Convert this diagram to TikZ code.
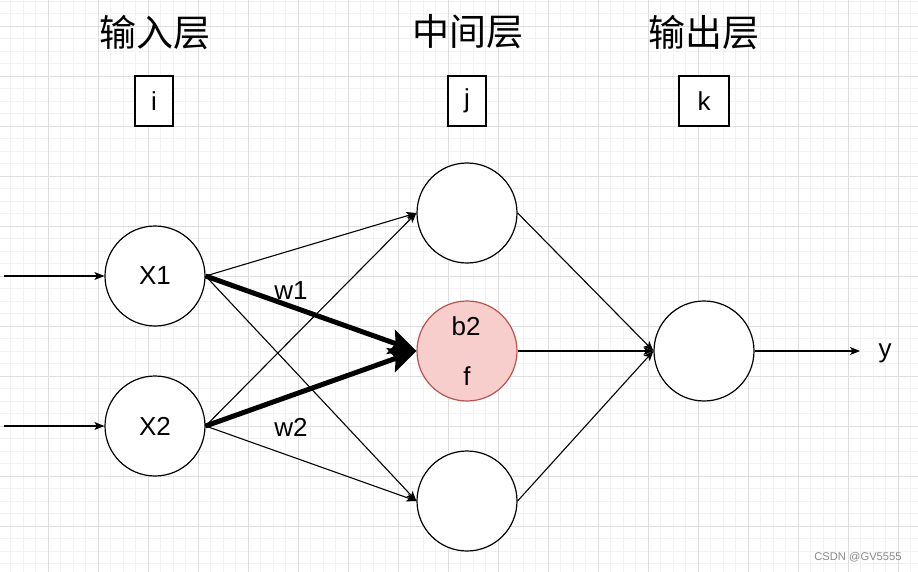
\documentclass[tikz,border=0pt]{standalone}
\usepackage{fontspec}
\setmainfont{Liberation Sans}
\newfontfamily\cjk{Noto Sans CJK SC}
\usetikzlibrary{arrows.meta}
\definecolor{gridminor}{HTML}{F2F2F2}
\definecolor{gridmajor}{HTML}{DEDEDE}
\definecolor{pinkfill}{HTML}{F8CECC}
\definecolor{pinkline}{HTML}{B85450}
\definecolor{wmgray}{HTML}{8A8A8A}
\tikzset{
  neuron/.style={circle, draw, line width=1.2pt, minimum size=100pt, inner sep=0pt, fill=white, font=\fontsize{26}{30}\selectfont},
  idxbox/.style={draw, line width=1.2pt, minimum height=50pt, inner sep=0pt, fill=white, font=\fontsize{26}{30}\selectfont},
  title/.style={font=\cjk\fontsize{37}{40}\selectfont, inner sep=0pt},
  lbl/.style={font=\fontsize{26}{30}\selectfont, inner sep=0pt},
  thinarrow/.style={line width=1.1pt, -{Stealth[length=10pt,width=8pt,inset=2.5pt]}},
  thickarrow/.style={line width=5pt, -{Stealth[length=27pt,width=25pt,inset=5pt]}},
}
\begin{document}
\begin{tikzpicture}[x=1pt,y=-1pt]
\useasboundingbox (0,0) rectangle (918,572);
\fill[white] (0,0) rectangle (918,572);
% grid
\foreach \i in {0,...,72} \draw[gridminor, line width=0.7pt] (10.5+12.5*\i,0) -- ++(0,572);
\foreach \i in {0,...,45} \draw[gridminor, line width=0.7pt] (0,1+12.5*\i) -- ++(918,0);
\foreach \i in {0,...,17} \draw[gridmajor, line width=0.8pt] (48+50*\i,0) -- ++(0,572);
\foreach \i in {0,...,10} \draw[gridmajor, line width=0.8pt] (0,26+50*\i) -- ++(918,0);

% titles
\node[title] (t1) at (155,33) {输入层};
\node[title] (t2) at (468,32) {中间层};
\node[title] (t3) at (704,33) {输出层};
% index boxes
\node[idxbox, minimum width=38pt] (bi) at (154,101) {i};
\node[idxbox, minimum width=38pt] (bj) at (467,101) {j};
\node[idxbox, minimum width=50pt] (bk) at (704,101) {k};

% neurons
\node[neuron] (x1) at (155,276) {X1};
\node[neuron] (x2) at (155,426) {X2};
\node[neuron] (h1) at (467,213) {};
\node[neuron, fill=pinkfill, draw=pinkline] (h2) at (467,351) {};
\node[neuron] (h3) at (467,501) {};
\node[neuron] (o) at (704,351) {};
\node[lbl] (b2) at (466,326) {b2};
\node[lbl] (fl) at (467,376) {f};

% free ends
\coordinate (in1) at (4,276);
\coordinate (in2) at (4,426);
\coordinate (out) at (860,351);

\draw[thinarrow] (in1) -- (x1.west);
\draw[thinarrow] (in2) -- (x2.west);
\draw[thinarrow] (x1.east) -- (h1.west);
\draw[thinarrow] (x1.east) -- (h3.west);
\draw[thinarrow] (x2.east) -- (h1.west);
\draw[thinarrow] (x2.east) -- (h3.west);
\draw[thickarrow] (x1.east) -- (h2.west);
\draw[thickarrow] (x2.east) -- (h2.west);
\draw[thinarrow] (h1.east) -- (o.west);
\draw[thinarrow] (h2.east) -- (o.west);
\draw[thinarrow] (h3.east) -- (o.west);
\draw[thinarrow] (o.east) -- (out);

\node[lbl] (w1) at (291,291) {w1};
\node[lbl] (w2) at (291,427) {w2};
\node[lbl] (y) at (885,353) {y};
\node[font=\fontsize{11.2}{13}\selectfont, text=wmgray, inner sep=0pt] (wm) at (858,557) {CSDN @GV5555};
\end{tikzpicture}
\end{document}
